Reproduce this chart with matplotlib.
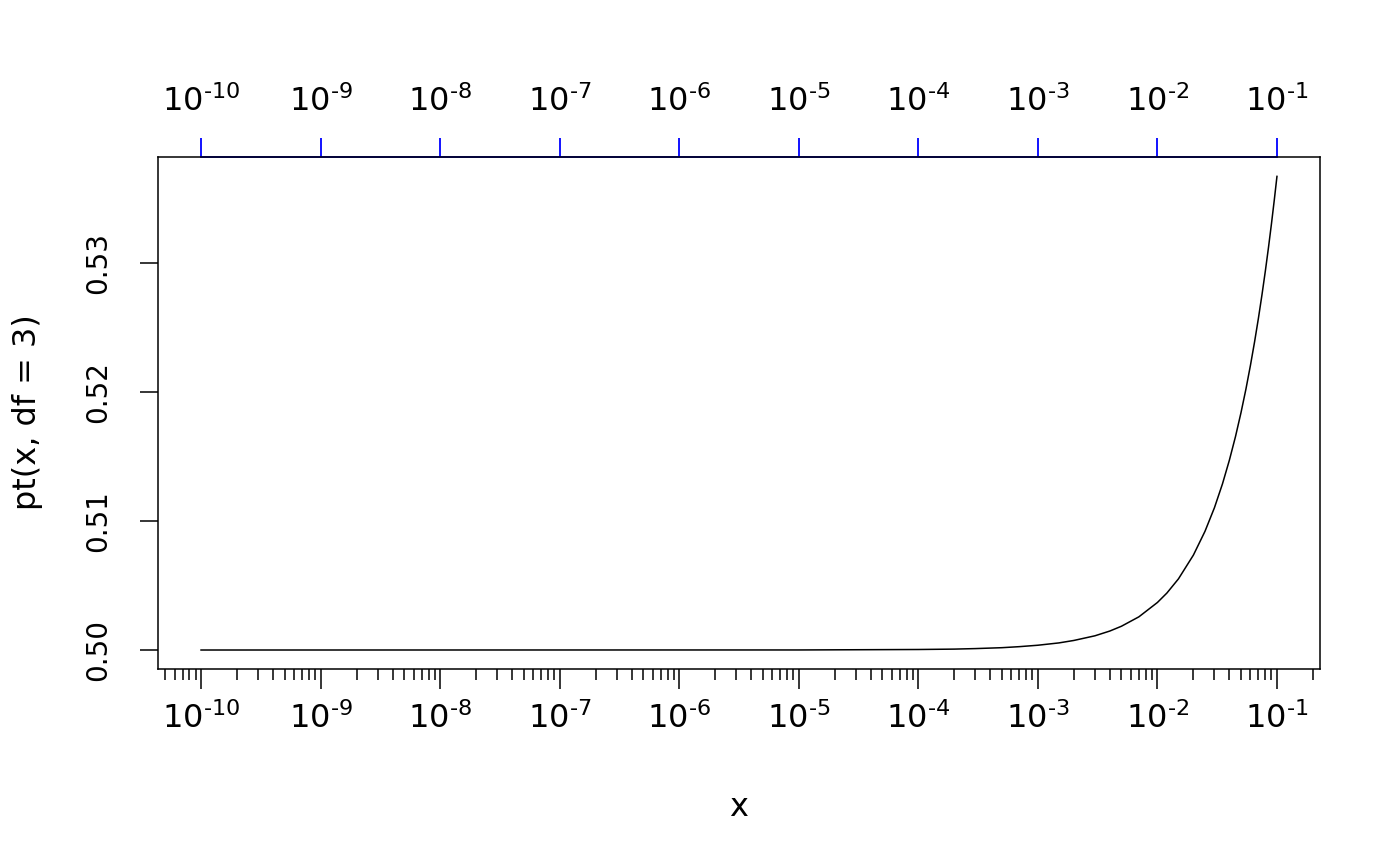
import math

import matplotlib
matplotlib.use("Agg")
import matplotlib.pyplot as plt
from matplotlib.ticker import FixedLocator, NullLocator, FuncFormatter, NullFormatter

# curve: pt(x, df = 3)
x_vals = [1e-10, 1e-5, 1e-4, 2e-4, 3e-4, 5e-4, 7e-4, 1e-3, 1.5e-3, 2e-3, 3e-3, 4e-3,
          5e-3, 7e-3, 1e-2, 1.2e-2, 1.5e-2, 2e-2, 2.5e-2, 3e-2, 3.5e-2, 4e-2, 4.5e-2,
          5e-2, 5.5e-2, 6e-2, 6.5e-2, 7e-2, 7.5e-2, 8e-2, 8.5e-2, 9e-2, 9.5e-2, 1e-1]
y_vals = [0.5, 0.500004, 0.50004, 0.50007, 0.50011, 0.50018, 0.50026, 0.50037, 0.50055,
          0.50074, 0.50110, 0.50147, 0.50184, 0.50257, 0.50368, 0.50441, 0.50551, 0.50735,
          0.50919, 0.51102, 0.51286, 0.51470, 0.51653, 0.51837, 0.52020, 0.52204, 0.52387,
          0.52570, 0.52753, 0.52936, 0.53119, 0.53302, 0.53485, 0.53667]

decades = list(range(-10, 0))
major_ticks = [10.0 ** e for e in decades]
minor_ticks = [m * 10.0 ** e for e in range(-11, 0) for m in range(2, 10)]
y_ticks = [0.50, 0.51, 0.52, 0.53]

PX = 72 / 100  # points per pixel at dpi 100


def pow10(v, pos):
    e = round(math.log10(v))
    return r"$10^{\text{-}%d}$" % abs(e)


fig = plt.figure(figsize=(14, 8.66), dpi=100)
ax = fig.add_axes([158 / 1400, 1 - 669 / 866, 1162 / 1400, 512 / 866])

ax.plot(x_vals, y_vals, color="black", linewidth=1.1)
ax.set_xscale("log")
ax.set_xlim(10 ** -10.36, 10 ** -0.64)
ax.set_ylim(0.49853, 0.53817)

for s in ax.spines.values():
    s.set_linewidth(1.1)

ax.xaxis.set_major_locator(FixedLocator(major_ticks))
ax.xaxis.set_minor_locator(FixedLocator(minor_ticks))
ax.xaxis.set_major_formatter(FuncFormatter(pow10))
ax.xaxis.set_minor_formatter(NullFormatter())
ax.tick_params(axis="x", which="major", length=20 * PX, width=1.1, labelsize=23, pad=13 * PX)
ax.tick_params(axis="x", which="minor", length=11 * PX, width=1.1)

ax.set_yticks(y_ticks)
ax.set_yticklabels(["%.2f" % v for v in y_ticks])
ax.tick_params(axis="y", length=18 * PX, width=1.1, labelsize=20, pad=28 * PX)
plt.setp(ax.get_yticklabels(), rotation=90, va="center")

# top axis in blue, only decade ticks
top = ax.secondary_xaxis("top")
top.xaxis.set_major_locator(FixedLocator(major_ticks))
top.xaxis.set_minor_locator(NullLocator())
top.xaxis.set_major_formatter(FuncFormatter(pow10))
top.spines["top"].set_bounds(major_ticks[0], major_ticks[-1])
top.spines["top"].set_color("blue")
top.spines["top"].set_linewidth(1.3)
top.tick_params(axis="x", colors="blue", labelcolor="black", length=19 * PX, width=1.3,
                labelsize=23, pad=20 * PX)

fig.text(739 / 1400, 1 - 807 / 866, "x", fontsize=23, ha="center", va="center")
fig.text(28 / 1400, 1 - 412 / 866, "pt(x, df = 3)", fontsize=23, ha="center", va="center",
         rotation=90)

fig.savefig("out.png", dpi=100)
